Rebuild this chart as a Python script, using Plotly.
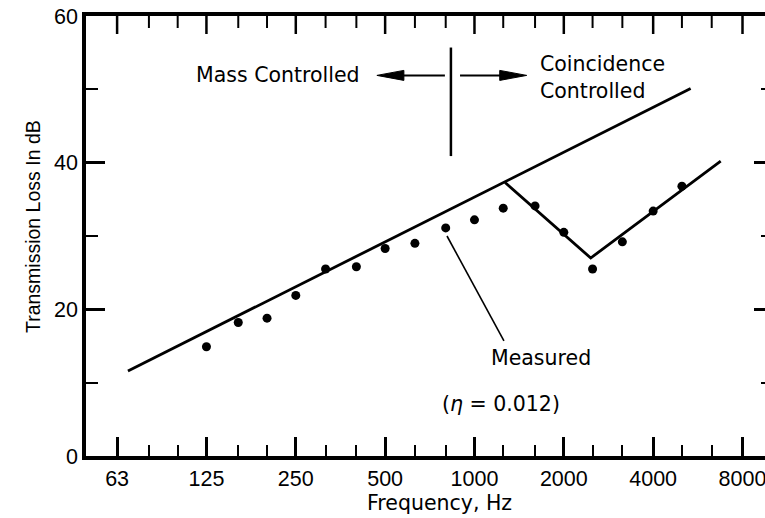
import math
import plotly.graph_objects as go

# Octave-band tick positions and their printed labels
octave_hz = [62.5, 125, 250, 500, 1000, 2000, 4000, 8000]
octave_labels = ["63", "125", "250", "500", "1000", "2000", "4000", "8000"]
third_octave_hz = [80, 100, 160, 200, 315, 400, 630, 800, 1250, 1600,
                   2500, 3150, 5000, 6300]

# Measured transmission loss at one-third-octave band centres (dB)
measured_hz = [125, 160, 200, 250, 315, 400, 500, 630, 800, 1000, 1250,
               1600, 2000, 2500, 3150, 4000, 5000]
measured_tl = [14.9, 18.2, 18.8, 21.9, 25.5, 25.8, 28.3, 29.0, 31.1, 32.2,
               33.8, 34.1, 30.5, 25.5, 29.2, 33.4, 36.8]

# Mass-law prediction (6 dB per octave)
mass_law_hz = [68, 5350]
mass_law_tl = [11.6, 50.1]

# Coincidence-controlled region
coincidence_hz = [1268, 2464, 6756]
coincidence_tl = [37.3, 27.0, 40.2]

X_RANGE = [math.log10(49.1), math.log10(9526)]
Y_RANGE = [0, 60]

TEXT_FONT = dict(family="DejaVu Sans", size=20.5, color="black")
TICK_FONT = dict(family="Liberation Sans", size=21.5, color="black")
INK = "black"

fig = go.Figure()

fig.add_trace(go.Scatter(
    x=mass_law_hz, y=mass_law_tl, mode="lines",
    line=dict(color=INK, width=2.8), showlegend=False, hoverinfo="skip"))
fig.add_trace(go.Scatter(
    x=coincidence_hz, y=coincidence_tl, mode="lines",
    line=dict(color=INK, width=2.8), showlegend=False, hoverinfo="skip"))
fig.add_trace(go.Scatter(
    x=measured_hz, y=measured_tl, mode="markers",
    marker=dict(color=INK, size=9), showlegend=False))
# empty trace that carries the right-hand dB axis
fig.add_trace(go.Scatter(x=[], y=[], yaxis="y2",
                         showlegend=False, hoverinfo="skip"))

# Tick marks hanging from the top frame line
for hz, length, width in ([(f, 18, 2.5) for f in octave_hz] +
                          [(f, 12, 2) for f in third_octave_hz]):
    fig.add_shape(type="line", xref="x", yref="paper",
                  ysizemode="pixel", yanchor=1, x0=hz, x1=hz,
                  y0=0, y1=-length, line=dict(color=INK, width=width))

# Region divider and arrows
arrow_y = 51.9
fig.add_shape(type="line", x0=833, x1=833, y0=40.9, y1=55.7,
              line=dict(color=INK, width=2.5))
fig.add_shape(type="line", x0=795, x1=560, y0=arrow_y, y1=arrow_y,
              line=dict(color=INK, width=2))
fig.add_shape(type="line", x0=894, x1=1300, y0=arrow_y, y1=arrow_y,
              line=dict(color=INK, width=2))
head_len, head_half = 27, 5
fig.add_shape(type="path", xsizemode="pixel", ysizemode="pixel",
              xanchor=469, yanchor=arrow_y,
              path=f"M0,0 L{head_len},{head_half} L{head_len},{-head_half} Z",
              fillcolor=INK, line=dict(color=INK, width=1))
fig.add_shape(type="path", xsizemode="pixel", ysizemode="pixel",
              xanchor=1500, yanchor=arrow_y,
              path=f"M0,0 L{-head_len},{head_half} L{-head_len},{-head_half} Z",
              fillcolor=INK, line=dict(color=INK, width=1))

# Leader from the "Measured" label to a data point
fig.add_shape(type="line", x0=808, y0=30.0, x1=1257, y1=15.7,
              line=dict(color=INK, width=1.6))

lg = math.log10
fig.add_annotation(x=lg(217), y=51.9, text="Mass Controlled", showarrow=False,
                   xanchor="center", yanchor="middle", font=TEXT_FONT)
fig.add_annotation(x=lg(1637), y=51.6, text="Coincidence<br>Controlled",
                   showarrow=False, xanchor="left", yanchor="middle",
                   align="left", font=TEXT_FONT)
fig.add_annotation(x=lg(1682), y=13.3, text="Measured", showarrow=False,
                   xanchor="center", yanchor="middle", font=TEXT_FONT)
fig.add_annotation(x=lg(1232), y=7.1, text="(<i>η</i> = 0.012)",
                   showarrow=False, xanchor="center", yanchor="middle",
                   font=TEXT_FONT)

# Axis titles
fig.add_annotation(xref="paper", yref="paper", x=0.52, y=-0.106,
                   text="Frequency, Hz", showarrow=False,
                   xanchor="center", yanchor="middle", font=TEXT_FONT)
fig.add_annotation(xref="paper", yref="paper", x=-0.077, y=0.522,
                   text="Transmission Loss In dB", showarrow=False,
                   textangle=-90, xanchor="center", yanchor="middle",
                   font=dict(family="Liberation Sans", size=19.5,
                             color="black"))

axis_line = dict(showline=True, linecolor=INK, linewidth=3.5, showgrid=False,
                 zeroline=False)

fig.update_layout(
    width=765, height=518,
    margin=dict(l=86, r=0, t=16, b=62),
    paper_bgcolor="white", plot_bgcolor="white",
    xaxis=dict(type="log", range=X_RANGE, **axis_line, mirror=True,
               tickmode="array", tickvals=octave_hz, ticktext=octave_labels,
               ticks="inside", ticklen=19, tickwidth=2.5, tickcolor=INK,
               tickfont=TICK_FONT, ticklabeloverflow="allow",
               minor=dict(tickmode="array", tickvals=third_octave_hz,
                          ticks="inside", ticklen=11, tickwidth=2,
                          tickcolor=INK, showgrid=False)),
    yaxis=dict(range=Y_RANGE, **axis_line,
               tickmode="array", tickvals=[0, 20, 40, 60],
               ticks="inside", ticklen=19, tickwidth=2.5, tickcolor=INK,
               tickfont=TICK_FONT,
               minor=dict(tickmode="array", tickvals=[10, 30, 50],
                          ticks="inside", ticklen=12, tickwidth=2,
                          tickcolor=INK, showgrid=False)),
    yaxis2=dict(range=Y_RANGE, overlaying="y", side="right", anchor="x",
                showline=False, showgrid=False, zeroline=False,
                showticklabels=False,
                tickmode="array", tickvals=[20, 40],
                ticks="inside", ticklen=11, tickwidth=2.5, tickcolor=INK,
                minor=dict(tickmode="array", tickvals=[10, 30, 50],
                           ticks="inside", ticklen=4, tickwidth=2,
                           tickcolor=INK, showgrid=False)),
)

fig.write_html("out.html")
